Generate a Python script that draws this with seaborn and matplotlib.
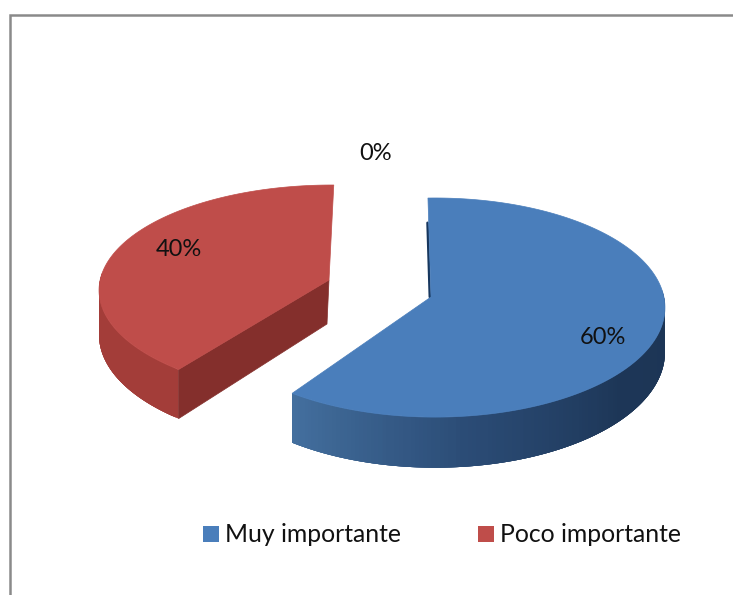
import numpy as np
import matplotlib
matplotlib.use("Agg")
import matplotlib.pyplot as plt
from matplotlib.patches import Patch
import seaborn as sns

# Data
categories = ["Muy importante", "Poco importante", "Sin importancia"]
shares = [60, 40, 0]
value_labels = ["60%", "40%", "0%"]

# Style
top_colors = ["#4a7ebb", "#bf4d4a"]
side_stops = [["#1c3555", "#1d3657", "#2b4c76", "#44709f"],
              ["#a23c38", "#a6403c", "#a6403c", "#a33d39"]]
wall_color = "#842f2c"
sliver_color = "#17375e"
rotation = [-2.0, 0.5]
arc_x = [435.0, 332.0]
arc_y = [293.3, 276.6]
radius_x = [228.0, 231.0]
radius_y = [107.7, 103.5]
apex = [(431.0, 297.0), (329.0, 280.0)]
label_xy = [(603, 337), (179, 249), (376, 153)]
persp = 0.13
depth = 44.0

sns.set_theme(style="white")
plt.rcParams["font.family"] = ["Lato", "DejaVu Sans"]

fig = plt.figure(figsize=(7.33, 5.95), dpi=100)
ax = fig.add_axes([0, 0, 1, 1])
ax.set_xlim(0, 733)
ax.set_ylim(595, 0)
ax.axis("off")

# Chart frame (cut off at right and bottom)
ax.plot([10, 10, 733], [595, 15, 15], color="#8a8a8a", lw=1.8, solid_joinstyle="miter")


def project(theta_deg, i):
    t = np.radians(theta_deg)
    u, v = np.sin(t), np.cos(t)
    s = 1.0 / (1.0 + persp * v)
    return arc_x[i] + radius_x[i] * u * s, arc_y[i] - radius_y[i] * v * s, s


starts = np.cumsum([0] + shares[:-1]) / sum(shares) * 360.0
for i, share in enumerate(shares):
    if share == 0:
        continue
    a0 = starts[i] + rotation[i]
    a1 = a0 + share / sum(shares) * 360.0
    th = np.linspace(a0, a1, 241)
    x, y, s = project(th, i)
    low = y + depth * s

    # outer wall, shaded along the arc; only the part facing the viewer
    pal = sns.blend_palette(side_stops[i], n_colors=len(th))
    frac = np.clip((th - 90.0) / (214.0 - 90.0), 0, 1)
    facing = np.where(np.cos(np.radians(th)) < 0.05)[0]
    step = 4
    for k in facing[:-1]:
        m = min(k + step, facing[-1])
        c = pal[int(frac[k] * (len(th) - 1))]
        ax.fill(np.r_[x[k:m + 1], x[k:m + 1][::-1]], np.r_[y[k:m + 1], low[k:m + 1][::-1]],
                color=c, lw=0, zorder=2 + i)

    ax_, ay_ = apex[i]
    ap_low = ay_ + depth
    if i == 1:
        # visible cut face of the red slice
        ax.fill([ax_, x[0], x[0], ax_ - 2], [ay_, y[0], low[0], ap_low],
                color=wall_color, lw=0.5, zorder=3 + i)
    else:
        # thin inner edge of the blue slice
        f = np.array([0.0, 0.3, 0.75])
        ax.plot(ax_ + f * (x[0] - ax_) - 1.2, ay_ + f * (y[0] - ay_),
                color=sliver_color, lw=1.8, zorder=1, solid_capstyle="round")

    # top surface
    ax.fill(np.r_[ax_, x], np.r_[ay_, y], color=top_colors[i], lw=0.5, zorder=5 + i)

for (lx, ly), txt in zip(label_xy, value_labels):
    ax.text(lx, ly, txt, ha="center", va="center", fontsize=17, color="#111111", zorder=10)

handles = [Patch(facecolor=c, edgecolor="none", label=n) for c, n in zip(top_colors, categories)]
ax.legend(handles=handles, loc="center", bbox_to_anchor=(442 / 733, 1 - 535 / 595), ncol=2,
          frameon=False, fontsize=17.8, handlelength=0.65, handleheight=0.65,
          handletextpad=0.24, columnspacing=3.08, borderpad=0, labelcolor="#111111")

fig.savefig("out.png", dpi=100, facecolor="white")
